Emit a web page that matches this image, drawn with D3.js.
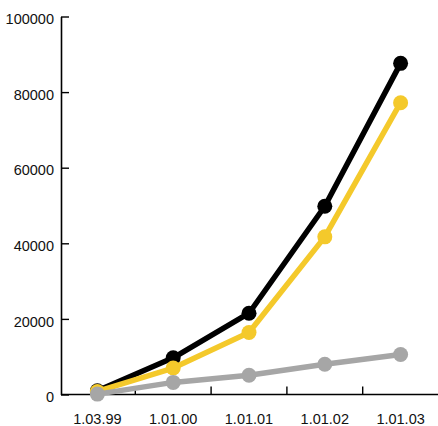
<!DOCTYPE html>
<html>
<head>
<meta charset="utf-8">
<script src="https://cdn.jsdelivr.net/npm/d3@7"></script>
<style>
  body { margin: 0; background: #fff; }
  text { font-family: "Liberation Sans", Arial, sans-serif; }
</style>
</head>
<body>
<svg id="chart"></svg>
<script>
const categories = ['1.03.99', '1.01.00', '1.01.01', '1.01.02', '1.01.03']
const blackValues = [1000, 9700, 21500, 49800, 87600]
const yellowValues = [800, 7000, 16400, 41700, 77200]
const grayValues = [100, 3200, 5100, 8000, 10600]
const yTicks = [0, 20000, 40000, 60000, 80000, 100000]

const width = 438
const height = 426
const axisLeft = 61 // y axis position
const axisTop = 16.5
const axisBottom = 394.5

const svg = d3.select('#chart')
  .attr('width', width)
  .attr('height', height)

const x = d3.scaleBand()
  .domain(categories)
  .range([59.5, 438.5])
  .paddingInner(0)
  .paddingOuter(0)

const y = d3.scaleLinear()
  .domain([0, 100000])
  .range([axisBottom, axisTop])

// Y axis, ticks pointing inward
const yAxis = svg.append('g')
  .attr('transform', `translate(${axisLeft},0)`)
  .call(d3.axisLeft(y)
    .tickValues(yTicks)
    .tickFormat(d3.format('d'))
    .tickSizeInner(-8)
    .tickSizeOuter(0)
    .tickPadding(7))
yAxis.select('.domain').attr('stroke-width', 1.6)
yAxis.selectAll('.tick line').attr('stroke-width', 1.4)
yAxis.selectAll('.tick text')
  .attr('font-size', 14.5)
  .attr('fill', '#111')
  .attr('dy', '0.5em')

// X axis line + tick marks at category boundaries
svg.append('line')
  .attr('x1', axisLeft).attr('x2', width)
  .attr('y1', axisBottom).attr('y2', axisBottom)
  .attr('stroke', '#000').attr('stroke-width', 1.6)

svg.append('g')
  .selectAll('line')
  .data(categories.slice(1))
  .join('line')
  .attr('x1', d => x(d)).attr('x2', d => x(d))
  .attr('y1', axisBottom).attr('y2', axisBottom - 8)
  .attr('stroke', '#000').attr('stroke-width', 1.4)

svg.append('g')
  .selectAll('text')
  .data(categories)
  .join('text')
  .attr('x', d => x(d) + x.bandwidth() / 2)
  .attr('y', 424)
  .attr('text-anchor', 'middle')
  .attr('font-size', 14.5)
  .attr('fill', '#111')
  .text(d => d)

// Series, drawn back to front
const series = [
  { values: blackValues, color: '#000000' },
  { values: yellowValues, color: '#f4c92b' },
  { values: grayValues, color: '#a6a6a6' },
]

const cx = (d, i) => x(categories[i]) + x.bandwidth() / 2
const line = d3.line()
  .x(cx)
  .y(d => y(d))

series.forEach(s => {
  const g = svg.append('g')
  g.append('path')
    .datum(s.values)
    .attr('d', line)
    .attr('fill', 'none')
    .attr('stroke', s.color)
    .attr('stroke-width', 5.5)
    .attr('stroke-linejoin', 'round')
  g.selectAll('circle')
    .data(s.values)
    .join('circle')
    .attr('cx', cx)
    .attr('cy', d => y(d))
    .attr('r', 7.5)
    .attr('fill', s.color)
})
</script>
</body>
</html>
